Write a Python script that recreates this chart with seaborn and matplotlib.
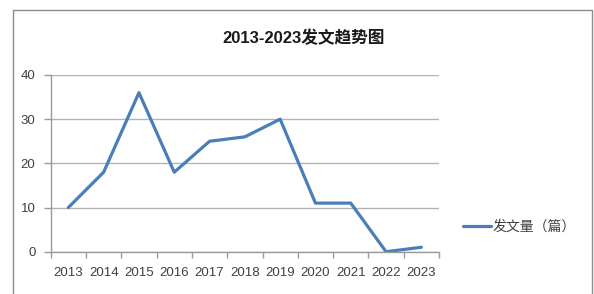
import pandas as pd
import matplotlib
matplotlib.use("Agg")
import matplotlib.pyplot as plt
import seaborn as sns
from matplotlib.patches import Rectangle
from matplotlib.ticker import FixedLocator

years = ["2013", "2014", "2015", "2016", "2017", "2018", "2019", "2020", "2021", "2022", "2023"]
counts = [10, 18, 36, 18, 25, 26, 30, 11, 11, 0, 1]
series_name = "发文量（篇）"
title = "2013-2023发文趋势图"

sns.set_style("white")
plt.rcParams["font.family"] = ["Liberation Sans", "Noto Sans CJK SC", "DejaVu Sans"]

df = pd.DataFrame({"年份": years, series_name: counts})

fig = plt.figure(figsize=(5.94, 2.94), dpi=100)
ax = fig.add_axes([50.7 / 594, 1 - 251.7 / 294, (439 - 50.7) / 594, (251.7 - 75) / 294])

# outer chart frame like the Excel chart area
fig.patches.append(Rectangle((13 / 594, -0.05), (592 - 13) / 594, 1 - 10 / 294 + 0.05,
                             transform=fig.transFigure, fill=False,
                             edgecolor="#8c8c8c", linewidth=1.0))

sns.lineplot(data=df, x="年份", y=series_name, ax=ax, color="#4a7ebb",
             linewidth=2.3, label=series_name, solid_joinstyle="round",
             solid_capstyle="round")

ax.set_xlim(-0.5, len(years) - 0.5)
ax.set_ylim(0, 40)
ax.set_yticks([0, 10, 20, 30, 40])
ax.yaxis.grid(True, color="#b4b4b4", linewidth=1.0)
ax.set_axisbelow(True)

ax.set_xticks(range(len(years)))
ax.set_xticklabels(years)
ax.xaxis.set_minor_locator(FixedLocator([i - 0.5 for i in range(len(years) + 1)]))
ax.tick_params(axis="x", which="major", length=0, pad=11, labelsize=9.5, labelcolor="#404040")
ax.tick_params(axis="x", which="minor", length=4, width=1, color="#9a9a9a", bottom=True)
ax.tick_params(axis="y", length=5, width=1, color="#9a9a9a", pad=6,
               labelsize=9.5, labelcolor="#404040", left=True)

for s in ["top", "right"]:
    ax.spines[s].set_visible(False)
for s in ["left", "bottom"]:
    ax.spines[s].set_color("#9a9a9a")
    ax.spines[s].set_linewidth(1.0)

ax.set_xlabel("")
ax.set_ylabel("")

fig.text(304 / 594, 1 - 38 / 294, title, ha="center", va="center",
         fontsize=12, fontweight="bold", color="#1a1a1a")

ax.legend(loc="center left", bbox_to_anchor=(463 / 594, 1 - 227 / 294),
          bbox_transform=fig.transFigure, frameon=False, borderpad=0,
          borderaxespad=0, handlelength=2.0, handletextpad=0.1,
          prop={"family": ["Noto Sans CJK SC", "DejaVu Sans"], "size": 10},
          labelcolor="#404040")

fig.savefig("out.png", dpi=100)
